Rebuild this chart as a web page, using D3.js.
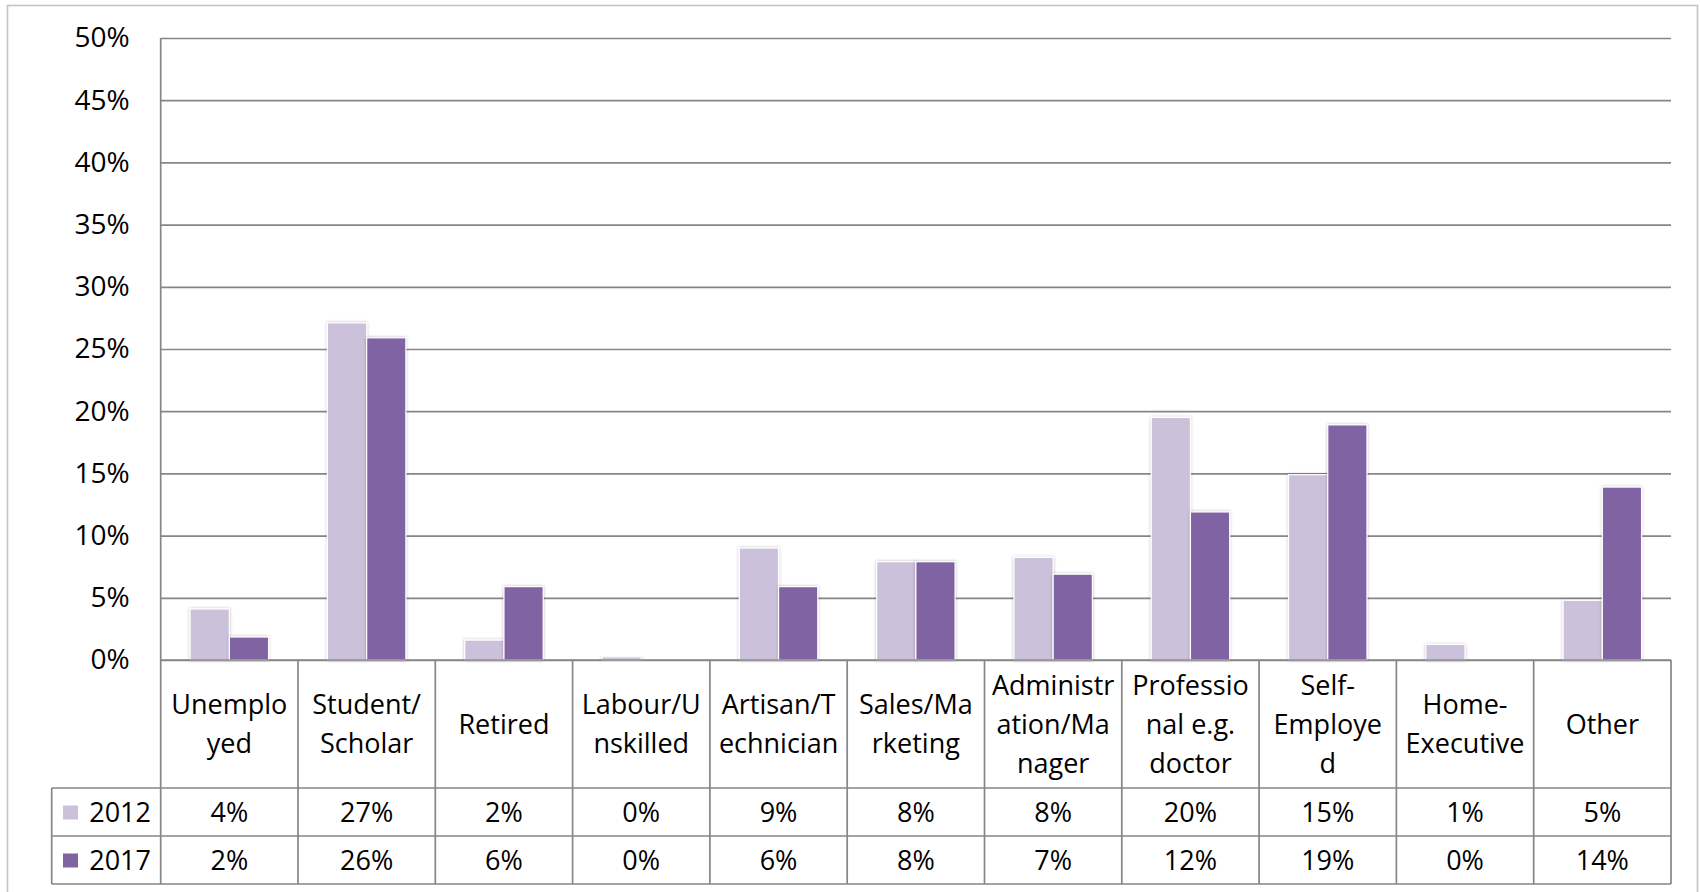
<!DOCTYPE html>
<html>
<head>
<meta charset="utf-8">
<script src="https://cdn.jsdelivr.net/npm/d3@7"></script>
<style>
  html, body { margin: 0; padding: 0; background: #fff; }
  svg { display: block; }
  text { font-family: "Open Sans", "Noto Sans", sans-serif; fill: #000; }
</style>
</head>
<body>
<svg id="chart" width="1700" height="892"></svg>
<script>
// ---- data ----
const categories = ["Unemployed","Student/Scholar","Retired","Labour/Unskilled","Artisan/Technician",
  "Sales/Marketing","Administration/Manager","Professional e.g. doctor","Self-Employed","Home-Executive","Other"];
const categoryLabelLines = [
  ["Unemplo","yed"],["Student/","Scholar"],["Retired"],["Labour/U","nskilled"],["Artisan/T","echnician"],
  ["Sales/Ma","rketing"],["Administr","ation/Ma","nager"],["Professio","nal e.g.","doctor"],
  ["Self-","Employe","d"],["Home-","Executive"],["Other"]
];
const seriesNames = ["2012","2017"];
const values2012 = [4.1, 27.1, 1.6, 0.25, 9.0, 7.9, 8.25, 19.5, 14.9, 1.25, 4.8];
const values2017 = [1.85, 25.9, 5.9, 0, 5.9, 7.9, 6.9, 11.9, 18.9, 0, 13.9];
const labels2012 = ["4%","27%","2%","0%","9%","8%","8%","20%","15%","1%","5%"];
const labels2017 = ["2%","26%","6%","0%","6%","8%","7%","12%","19%","0%","14%"];
const yTicks = [0,5,10,15,20,25,30,35,40,45,50];
const seriesColors = ["#ccc1da","#8064a2"];

// ---- layout ----
const plotL = 160.7, plotR = 1671, plotT = 38, plotB = 660;
const catRowB = 788, row1B = 836, row2B = 884, legendL = 51.7;
const gridColor = "#868686";
const gridW = 1.7;
const fontSize = 27;

const svg = d3.select("#chart");

// shadow filter
const defs = svg.append("defs");
const f = defs.append("filter").attr("id","shadow").attr("x","-20%").attr("y","-20%").attr("width","140%").attr("height","140%");
f.append("feDropShadow").attr("dx",0).attr("dy",0).attr("stdDeviation",1.6).attr("flood-color","#000").attr("flood-opacity",0.28);

// outer border
svg.append("rect").attr("x",7.5).attr("y",5.5).attr("width",1690).attr("height",900)
  .attr("fill","none").attr("stroke","#c4c4c4").attr("stroke-width",1.6);

const x0 = d3.scaleBand().domain(categories).range([plotL, plotR]).padding(0);
const x1 = d3.scaleBand().domain(seriesNames).range([0, x0.bandwidth()]).paddingInner(0).paddingOuter(0.75);
const y = d3.scaleLinear().domain([0, 50]).range([plotB, plotT]);

// gridlines
const yAxis = d3.axisLeft(y).tickValues(yTicks).tickSize(-(plotR - plotL)).tickFormat(d => d + "%").tickPadding(31);
const gy = svg.append("g").attr("transform", `translate(${plotL},0)`).call(yAxis);
gy.select(".domain").remove();
gy.selectAll(".tick line").attr("stroke", gridColor).attr("stroke-width", gridW);
gy.selectAll(".tick text").attr("font-size", fontSize + 1).attr("fill","#000")
  .attr("font-family", '"Open Sans", "Noto Sans", sans-serif');

// bars
const seriesVals = [values2012, values2017];
const gBars = svg.append("g");
seriesNames.forEach((s, si) => {
  gBars.selectAll(null).data(categories).enter().append("rect")
    .attr("x", c => x0(c) + x1(s))
    .attr("width", x1.bandwidth())
    .attr("y", (c, i) => y(seriesVals[si][i]))
    .attr("height", (c, i) => plotB - y(seriesVals[si][i]))
    .attr("fill", seriesColors[si])
    .attr("stroke", "#ffffff")
    .attr("stroke-width", (c, i) => seriesVals[si][i] > 0 ? 1.2 : 0)
    .attr("filter", (c, i) => seriesVals[si][i] > 0 ? "url(#shadow)" : null)
    .style("display", (c, i) => seriesVals[si][i] > 0 ? null : "none");
});

// table lines
const gl = svg.append("g").attr("stroke", gridColor).attr("stroke-width", gridW).attr("fill","none");
gl.append("line").attr("x1", plotL).attr("x2", plotR).attr("y1", plotB).attr("y2", plotB);
[catRowB, row1B, row2B].forEach(yy => gl.append("line").attr("x1", legendL).attr("x2", plotR).attr("y1", yy).attr("y2", yy));
gl.append("line").attr("x1", plotL).attr("x2", plotL).attr("y1", plotT).attr("y2", row2B);
gl.append("line").attr("x1", legendL).attr("x2", legendL).attr("y1", catRowB).attr("y2", row2B);
categories.forEach(c => {
  const xx = x0(c) + x0.bandwidth();
  gl.append("line").attr("x1", xx).attr("x2", xx).attr("y1", plotB).attr("y2", row2B);
});

// category labels
const lineH = 39;
const catCenterY = (plotB + catRowB) / 2;
categories.forEach((c, i) => {
  const lines = categoryLabelLines[i];
  const t = svg.append("text").attr("text-anchor","middle").attr("font-size", fontSize);
  lines.forEach((ln, j) => {
    t.append("tspan").attr("x", x0(c) + x0.bandwidth()/2)
      .attr("y", catCenterY + (j - (lines.length - 1)/2) * lineH)
      .attr("dy", "0.36em").text(ln);
  });
});

// value rows
const rowLabels = [labels2012, labels2017];
const rowCenters = [(catRowB + row1B)/2, (row1B + row2B)/2];
rowLabels.forEach((arr, si) => {
  svg.append("g").selectAll("text").data(categories).enter().append("text")
    .attr("x", c => x0(c) + x0.bandwidth()/2)
    .attr("y", rowCenters[si]).attr("dy","0.36em")
    .attr("text-anchor","middle").attr("font-size", fontSize)
    .text((c, i) => arr[i]);
  // legend key
  svg.append("rect").attr("x", 63).attr("y", rowCenters[si] - 6.5).attr("width", 15).attr("height", 14)
    .attr("fill", seriesColors[si]);
  svg.append("text").attr("x", 151).attr("y", rowCenters[si]).attr("dy","0.36em")
    .attr("text-anchor","end").attr("font-size", fontSize).text(seriesNames[si]);
});
</script>
</body>
</html>
